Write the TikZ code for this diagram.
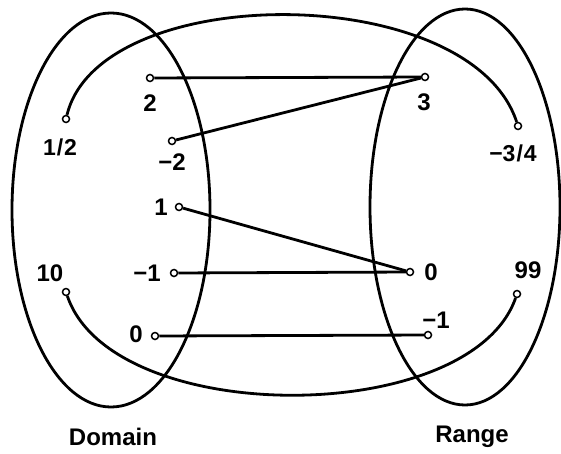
\documentclass[tikz,border=0pt]{standalone}
\usepackage{fontspec}
\setmainfont{Liberation Sans}
\begin{document}
\begin{tikzpicture}[x=1pt,y=-1pt,
  pt/.style={circle,draw,fill=white,inner sep=0pt,minimum size=7pt,line width=1.5pt},
  lbl/.style={font=\fontsize{24}{24}\selectfont\bfseries,inner sep=0pt},
  frac/.style={font=\fontsize{23}{23}\selectfont\bfseries,inner sep=0pt},
  conn/.style={line width=2.8pt},
  outline/.style={line width=2.8pt}]
\useasboundingbox (0,0) rectangle (561,454);
% sets
\draw[outline] (111,210) ellipse [x radius=99, y radius=197];
\draw[outline] (465,207) ellipse [x radius=95, y radius=198];
% points
\node[pt] (half)  at (66,119) {};
\node[pt] (two)   at (150,78) {};
\node[pt] (mtwo)  at (172,141) {};
\node[pt] (one)   at (179,207) {};
\node[pt] (ten)   at (66,292) {};
\node[pt] (mone)  at (174,273) {};
\node[pt] (zero)  at (155,336) {};
\node[pt] (three) at (425,77) {};
\node[pt] (m34)   at (518,126) {};
\node[pt] (rzero) at (410,272) {};
\node[pt] (n99)   at (517,294) {};
\node[pt] (rmone) at (428,335) {};
% big arcs
\draw[outline] (half) .. controls (100,-20) and (470,-20) .. (m34);
\draw[outline] (ten) .. controls (112,428) and (470,428) .. (n99);
% mapping
\draw[conn] (two) -- (three);
\draw[conn] (mtwo) -- (three);
\draw[conn] (one) -- (rzero);
\draw[conn] (mone) -- (rzero);
\draw[conn] (zero) -- (rmone);
% labels
\node[frac] (lhalf) at (60,147) {1\kern1pt/\kern1pt2};
\node[lbl] (ltwo) at (150,103) {2};
\node[lbl] (lmtwo) at (172,162) {−2};
\node[lbl] (lone) at (161,207) {1};
\node[lbl] (lten) at (50,273) {10};
\node[lbl] (lmone) at (147,273) {−1};
\node[lbl] (lzero) at (136,334) {0};
\node[lbl] (lthree) at (424,102) {3};
\node[frac] (lm34) at (513,153) {−3\kern1pt/\kern1pt4};
\node[lbl] (lrzero) at (431,272) {0};
\node[lbl] (ln99) at (528,270) {99};
\node[lbl] (lrmone) at (436,320) {−1};
\node[lbl] (ldom) at (113,437) {Domain};
\node[lbl] (lran) at (472,437) {Range};
\end{tikzpicture}
\end{document}
